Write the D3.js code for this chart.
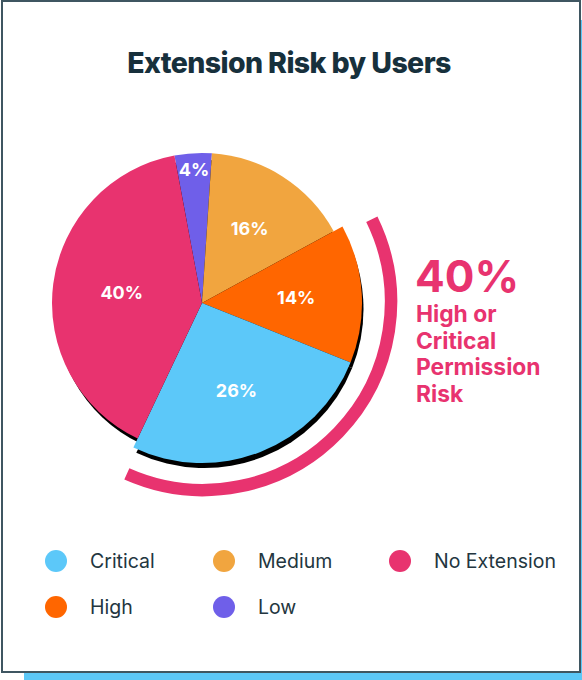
<!DOCTYPE html>
<html>
<head>
<meta charset="utf-8">
<script src="https://cdn.jsdelivr.net/npm/d3@7"></script>
<style>
  html, body { margin: 0; padding: 0; background: #ffffff; }
  svg { display: block; }
</style>
</head>
<body>
<svg id="chart" width="582" height="680"></svg>
<script>
// Share of users by extension risk level
const categories = ["Low", "Medium", "High", "Critical", "No Extension"];
const values = [4, 16, 14, 26, 40];
const colors = ["#6f5fe9", "#f1a53f", "#ff6600", "#5cc8f9", "#e8336f"];
const highlighted = ["High", "Critical"];
const legendOrder = ["Critical", "Medium", "No Extension", "High", "Low"];
const title = "Extension Risk by Users";
const calloutLines = ["High or", "Critical", "Permission", "Risk"];

const W = 582, H = 680;
const svg = d3.select("#chart");
const ink = "#233640";
const pink = colors[categories.indexOf("No Extension")];
const font = "Inter, 'Noto Sans', sans-serif";

const color = d3.scaleOrdinal().domain(categories).range(colors);

// card with offset accent strip
svg.append("rect").attr("x", 24).attr("y", 20).attr("width", W - 24).attr("height", H - 20)
  .attr("fill", "#5cc8f7");
svg.append("rect").attr("x", 2).attr("y", 1).attr("width", 578).attr("height", 671)
  .attr("fill", "#ffffff").attr("stroke", "#3f5661").attr("stroke-width", 2);

svg.append("text")
  .attr("x", 289).attr("y", 73)
  .attr("text-anchor", "middle")
  .attr("font-family", font).attr("font-weight", 800).attr("font-size", 28.5)
  .attr("letter-spacing", -0.6)
  .attr("fill", "#17303c")
  .text(title);

// pie
const cx = 202, cy = 303, R = 150, Rx = 160;
const startA = -10.6 * Math.PI / 180;
const pie = d3.pie().sort(null).value(d => d.value)
  .startAngle(startA).endAngle(startA + 2 * Math.PI);
const data = pie(categories.map((c, i) => ({ cat: c, value: values[i] })));
const outerOf = d => highlighted.includes(d.data.cat) ? Rx : R;
const arc = d3.arc().innerRadius(0).outerRadius(outerOf);

const g = svg.append("g").attr("transform", `translate(${cx},${cy})`);

// hard drop shadow behind slices
g.append("g").attr("transform", "translate(2.5,6)")
  .selectAll("path").data(data).join("path")
  .attr("d", d3.arc().innerRadius(0).outerRadius(d => outerOf(d) - 1))
  .attr("fill", "#000");

g.append("g").selectAll("path").data(data).join("path")
  .attr("d", arc)
  .attr("fill", d => color(d.data.cat));

// percentage labels
const labelR = d => {
  const share = d.data.value / d3.sum(values);
  if (share < 0.06) return R * 0.89;
  if (share > 0.35) return R * 0.54;
  return outerOf(d) * 0.59;
};
g.append("g").selectAll("text").data(data).join("text")
  .attr("transform", d => {
    const a = (d.startAngle + d.endAngle) / 2, r = labelR(d);
    return `translate(${Math.sin(a) * r},${-Math.cos(a) * r})`;
  })
  .attr("text-anchor", "middle").attr("dy", "0.36em")
  .attr("font-family", font).attr("font-weight", 700).attr("font-size", 18)
  .attr("fill", "#fff")
  .text(d => d.data.value + "%");

// highlight ring around High + Critical
const hl = data.filter(d => highlighted.includes(d.data.cat));
const hlStart = d3.min(hl, d => d.startAngle) + 2.5 * Math.PI / 180;
const hlEnd = d3.max(hl, d => d.endAngle) - 1.5 * Math.PI / 180;
const ringR = 188;
g.append("path")
  .attr("transform", "translate(1,-1)")
  .attr("d", d3.arc()({ innerRadius: ringR, outerRadius: ringR, startAngle: hlStart, endAngle: hlEnd }))
  .attr("fill", "none").attr("stroke", pink).attr("stroke-width", 12.5).attr("stroke-linecap", "round");

// callout
const hlTotal = d3.sum(hl, d => d.data.value);
svg.append("text").attr("x", 415).attr("y", 292)
  .attr("font-family", font).attr("font-weight", 700).attr("font-size", 44)
  .attr("fill", pink).text(hlTotal + "%");
svg.append("g").selectAll("text").data(calloutLines).join("text")
  .attr("x", 416).attr("y", (d, i) => 322 + i * 26.7)
  .attr("font-family", font).attr("font-weight", 700).attr("font-size", 22.8)
  .attr("fill", pink).text(d => d);

// legend
const colX = [56, 224, 400], rowY = [561, 607];
const lg = svg.append("g").selectAll("g").data(legendOrder).join("g")
  .attr("transform", (d, i) => `translate(${colX[i % 3]},${rowY[Math.floor(i / 3)]})`);
lg.append("circle").attr("r", 11).attr("fill", d => color(d));
lg.append("text").attr("x", 34).attr("dy", "0.36em")
  .attr("font-family", font).attr("font-weight", 400).attr("font-size", 19.5)
  .attr("fill", ink).text(d => d);
</script>
</body>
</html>
